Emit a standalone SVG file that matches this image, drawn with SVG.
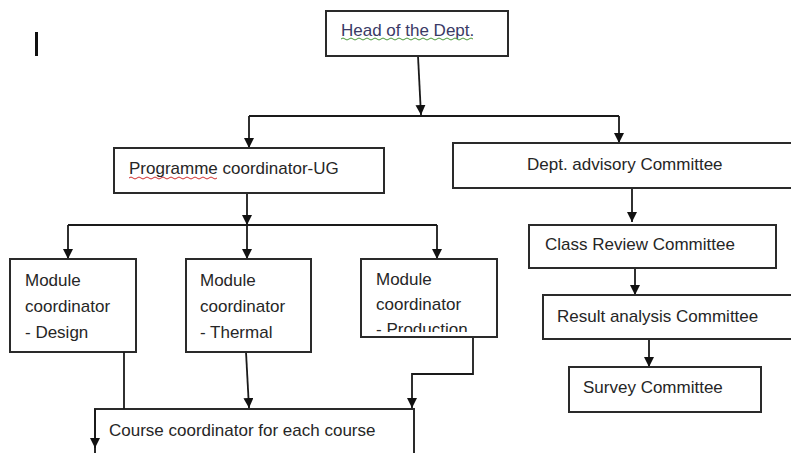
<svg xmlns="http://www.w3.org/2000/svg" width="791" height="453" viewBox="0 0 791 453">
<defs>
<style>
.box{fill:#fff;stroke:#2a2a2a;stroke-width:2}
.t{font-family:"Liberation Sans",Arial,sans-serif;font-size:17px;fill:#262626}
.c{fill:none;stroke:#1a1a1a;stroke-width:1.8}
.sq{fill:none;stroke-width:1}
</style>
<marker id="ah" markerUnits="userSpaceOnUse" markerWidth="10" markerHeight="10" refX="10" refY="5" orient="auto">
<path d="M0,0 L10,5 L0,10 z" fill="#111"/>
</marker>
<clipPath id="prodclip"><rect x="362" y="260" width="135" height="72"/></clipPath>
</defs>
<rect width="791" height="453" fill="#fff"/>
<rect x="35" y="32" width="3" height="24" fill="#111"/>

<g id="connectors">
<path class="c" d="M418,56 L421,115" marker-end="url(#ah)"/>
<path class="c" d="M249,116 H619"/>
<path class="c" d="M249,116 V148" marker-end="url(#ah)"/>
<path class="c" d="M619,116 V143" marker-end="url(#ah)"/>
<path class="c" d="M632,188 V222" marker-end="url(#ah)"/>
<path class="c" d="M635,268 V295" marker-end="url(#ah)"/>
<path class="c" d="M649,339 V367" marker-end="url(#ah)"/>
<path class="c" d="M247,193 V225" marker-end="url(#ah)"/>
<path class="c" d="M68,225 H437"/>
<path class="c" d="M68,225 V259" marker-end="url(#ah)"/>
<path class="c" d="M247,225 V259" marker-end="url(#ah)"/>
<path class="c" d="M437,225 V259" marker-end="url(#ah)"/>
<path class="c" d="M246,352 L249,408" marker-end="url(#ah)"/>
<path class="c" d="M473,337 V374 H412 V408" marker-end="url(#ah)"/>
</g>

<g id="head">
<rect class="box" x="326" y="11" width="182" height="45"/>
<text class="t" x="341" y="36" style="fill:#3a3a66">Head of the Dept.</text>
<path class="sq" stroke="#4a9a3a" d="M341,39 q2,-2 4,0 t4,0 t4,0 t4,0 t4,0 t4,0 t4,0 t4,0 t4,0 t4,0 t4,0 t4,0 t4,0 t4,0 t4,0 t4,0 t4,0 t4,0 t4,0 t4,0 t4,0 t4,0 t4,0 t4,0 t4,0 t4,0 t4,0 t4,0 t4,0 t4,0 t4,0 t4,0 t4,0"/>
</g>

<g id="programme">
<rect class="box" x="114" y="148" width="270" height="45"/>
<text class="t" x="129" y="174">Programme coordinator-UG</text>
<path class="sq" stroke="#d03030" d="M129,178 q2,-2 4,0 t4,0 t4,0 t4,0 t4,0 t4,0 t4,0 t4,0 t4,0 t4,0 t4,0 t4,0 t4,0 t4,0 t4,0 t4,0 t4,0 t4,0 t4,0 t4,0 t4,0 t4,0"/>
</g>

<g id="advisory">
<rect class="box" x="453" y="143" width="360" height="45"/>
<text class="t" x="527" y="170">Dept. advisory Committee</text>
</g>

<g id="classreview">
<rect class="box" x="529" y="225" width="247" height="43"/>
<text class="t" x="545" y="250">Class Review Committee</text>
</g>

<g id="result">
<rect class="box" x="543" y="295" width="270" height="44"/>
<text class="t" x="557" y="322">Result analysis Committee</text>
</g>

<g id="survey">
<rect class="box" x="569" y="367" width="192" height="45"/>
<text class="t" x="583" y="393">Survey Committee</text>
</g>

<g id="design">
<rect class="box" x="10" y="259" width="126" height="93"/>
<text class="t" x="25" y="286">Module</text>
<text class="t" x="25" y="312">coordinator</text>
<text class="t" x="25" y="338">- Design</text>
</g>

<g id="thermal">
<rect class="box" x="186" y="259" width="125" height="93"/>
<text class="t" x="200" y="286">Module</text>
<text class="t" x="200" y="312">coordinator</text>
<text class="t" x="200" y="338">- Thermal</text>
</g>

<g id="production">
<rect class="box" x="361" y="259" width="136" height="78"/>
<g clip-path="url(#prodclip)">
<text class="t" x="376" y="285">Module</text>
<text class="t" x="376" y="310">coordinator</text>
<text class="t" x="376" y="335">- Production</text>
</g>
</g>

<g id="course">
<rect class="box" x="95" y="409" width="319" height="60"/>
<text class="t" x="109" y="436">Course coordinator for each course</text>
</g>

<g id="connectors-over">
<path class="c" d="M124,352 V409"/>
<path class="c" d="M95,409 V448" marker-end="url(#ah)"/>
</g>
</svg>
